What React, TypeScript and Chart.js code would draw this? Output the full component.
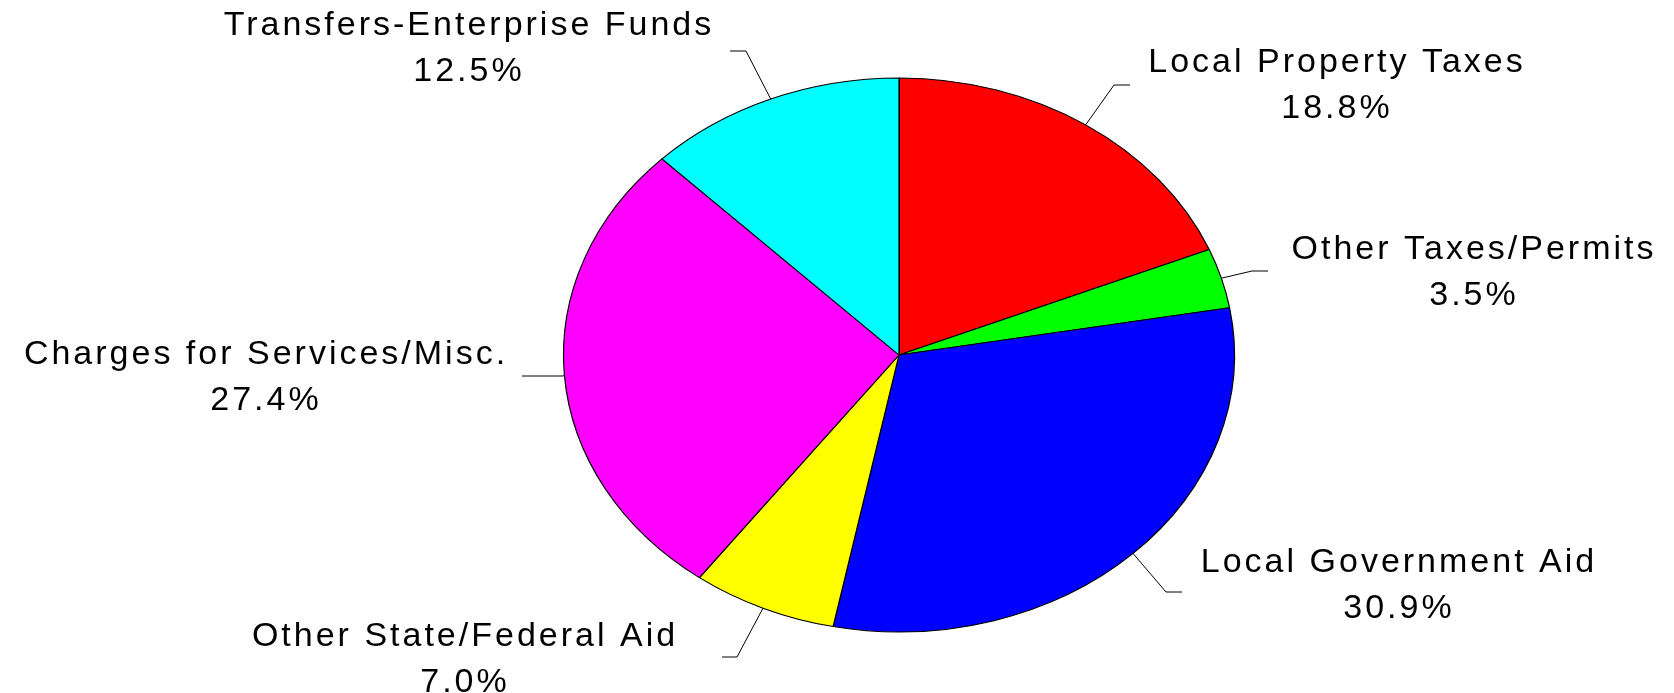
import { useEffect, useRef } from "react";
import { Chart, registerables } from "chart.js";

Chart.register(...registerables);

// ---- data ----
const categories = [
  "Local Property Taxes",
  "Other Taxes/Permits",
  "Local Government Aid",
  "Other State/Federal Aid",
  "Charges for Services/Misc.",
  "Transfers-Enterprise Funds",
];
const shares = [18.8, 3.5, 30.9, 7.0, 27.4, 12.5];
const percentLabels = ["18.8%", "3.5%", "30.9%", "7.0%", "27.4%", "12.5%"];
const sliceColors = ["#FF0000", "#00FF00", "#0000FF", "#FFFF00", "#FF00FF", "#00FFFF"];

// ---- layout (page coordinates) ----
const M = 8;
const W = 1658;
const H = 685;
const RADIUS_Y = 277;
const STRETCH_X = 335.5 / 277;
const LABEL_POS = [
  [1337, 72],
  [1474, 259],
  [1399, 572],
  [465, 646],
  [266, 364],
  [469, 35],
];
const LINE_GAP = 46;
const LEADER_END = [
  [1130, 85],
  [1268, 271],
  [1182, 592],
  [722, 657],
  [522, 376],
  [730, 51],
];
const ELBOW_DX = [-16, -16, -16, 15, 41, 16];
const FONT = '34px "Liberation Sans", Arial, sans-serif';

const ellipsePlugin = {
  id: "ellipse",
  beforeDatasetsDraw(chart: any) {
    const arc = chart.getDatasetMeta(0).data[0];
    if (!arc) return;
    const ctx = chart.ctx;
    ctx.save();
    ctx.translate(arc.x, arc.y);
    ctx.scale(STRETCH_X, 1);
    ctx.translate(-arc.x, -arc.y);
  },
  afterDatasetsDraw(chart: any) {
    chart.ctx.restore();
  },
};

const labelPlugin = {
  id: "labels",
  afterDraw(chart: any) {
    const ctx = chart.ctx;
    const arcs = chart.getDatasetMeta(0).data;
    ctx.save();
    ctx.strokeStyle = "#000";
    ctx.lineWidth = 1;
    arcs.forEach((arc: any, i: number) => {
      const a = (arc.startAngle + arc.endAngle) / 2;
      const sx = arc.x + arc.outerRadius * STRETCH_X * Math.cos(a);
      const sy = arc.y + arc.outerRadius * Math.sin(a);
      const ex = LEADER_END[i][0] - M;
      const ey = LEADER_END[i][1] - M;
      const bx = ex + ELBOW_DX[i];
      ctx.beginPath();
      ctx.moveTo(sx, sy);
      ctx.lineTo(bx, ey);
      ctx.lineTo(ex, ey);
      ctx.stroke();
    });
    ctx.fillStyle = "#000";
    ctx.font = FONT;
    try {
      (ctx as any).letterSpacing = "3px";
    } catch (e) {}
    ctx.textAlign = "center";
    ctx.textBaseline = "alphabetic";
    categories.forEach((name, i) => {
      const x = LABEL_POS[i][0] - M;
      const y = LABEL_POS[i][1] - M;
      ctx.fillText(name, x, y);
      ctx.fillText(percentLabels[i], x, y + LINE_GAP);
    });
    ctx.restore();
  },
};

export default function App() {
  const ref = useRef<HTMLCanvasElement | null>(null);
  useEffect(() => {
    document.documentElement.style.overflow = "hidden";
    document.body.style.overflow = "hidden";
    if (!ref.current) return;
    const cx = 899 - M;
    const cy = 355 - M;
    const chart = new Chart(ref.current, {
      type: "pie",
      data: {
        labels: categories,
        datasets: [
          {
            data: shares,
            backgroundColor: sliceColors,
            borderColor: "#000000",
            borderWidth: 1,
            hoverOffset: 0,
            clip: false as any,
          },
        ],
      },
      options: {
        animation: false,
        responsive: true,
        maintainAspectRatio: false,
        radius: RADIUS_Y,
        layout: {
          padding: { left: 2 * cx - W, right: 0, top: 2 * cy - H, bottom: 0 },
        },
        plugins: {
          legend: { display: false },
          tooltip: { enabled: false },
        },
        events: [],
      } as any,
      plugins: [ellipsePlugin, labelPlugin],
    });
    return () => chart.destroy();
  }, []);
  return (
    <div style={{ position: "relative", width: W, height: H }}>
      <canvas ref={ref} />
    </div>
  );
}
